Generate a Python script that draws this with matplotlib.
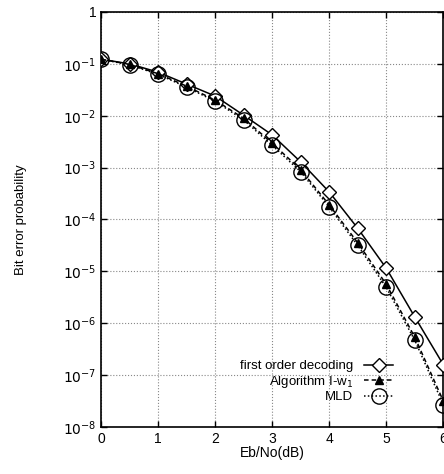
import numpy as np
import matplotlib
matplotlib.use("Agg")
import matplotlib.pyplot as plt
from matplotlib.ticker import FixedLocator, FuncFormatter

plt.rcParams['font.family'] = ['Liberation Sans', 'DejaVu Sans']

# Eb/No (dB)
snr = [0, 0.5, 1, 1.5, 2, 2.5, 3, 3.5, 4, 4.5, 5, 5.5, 6]

# log10 of bit error probability
first_order_log = [-0.91, -1.00, -1.16, -1.39, -1.62, -1.99, -2.37,
                   -2.89, -3.47, -4.17, -4.94, -5.88, -6.80]
algo_log = [-0.91, -1.01, -1.19, -1.43, -1.70, -2.05, -2.53,
            -3.04, -3.72, -4.45, -5.25, -6.27, -7.50]
mld_log = [-0.91, -1.02, -1.20, -1.45, -1.72, -2.08, -2.57,
           -3.08, -3.76, -4.50, -5.31, -6.33, -7.57]

labels = ["first order decoding", "Algorithm I-w$_1$", "MLD"]

first_order = 10.0 ** np.array(first_order_log)
algo = 10.0 ** np.array(algo_log)
mld = 10.0 ** np.array(mld_log)

fig = plt.figure(figsize=(4.44, 4.74), dpi=100)
ax = fig.add_axes([0.2275, 0.0992, 0.771, 0.8755])

ax.plot(snr, first_order, color='black', lw=1.1, ls='-', marker='D',
        ms=7.5, mfc='white', mec='black', mew=1.0, label=labels[0], zorder=3)
ax.plot(snr, algo, color='black', lw=1.1, ls=(0, (3, 2)), marker='^',
        ms=6, mfc='black', mec='black', label=labels[1], zorder=4)
ax.plot(snr, mld, color='black', lw=1.1, ls=(0, (1, 1.5)), marker='o',
        ms=11, mfc='none', mec='black', mew=1.0, label=labels[2], zorder=5)

ax.set_yscale('log')
ax.set_xlim(0, 6)
ax.set_ylim(1e-8, 1)
ax.xaxis.set_major_locator(FixedLocator([0, 1, 2, 3, 4, 5, 6]))
ax.yaxis.set_major_locator(FixedLocator([10.0 ** -k for k in range(0, 9)]))
ax.yaxis.set_minor_locator(FixedLocator([]))


def fmt(v, pos):
    e = int(round(np.log10(v)))
    if e == 0:
        return "1"
    return r"$10^{%d}$" % e


ax.yaxis.set_major_formatter(FuncFormatter(fmt))
ax.tick_params(direction='in', top=True, right=True, length=4,
               labelsize=10, width=1.0)
for s in ax.spines.values():
    s.set_linewidth(1.2)

ax.grid(True, which='major', ls=':', color='#888888', lw=0.8)

ax.set_xlabel("Eb/No(dB)", fontsize=10, labelpad=0)
ax.set_ylabel("Bit error probability", fontsize=9.5, labelpad=26)

leg = ax.legend(loc='lower right', markerfirst=False, frameon=False,
                fontsize=9.5, handlelength=2.2, labelspacing=0.1,
                borderaxespad=0.3, bbox_to_anchor=(0.88, 0.035))

fig.savefig("out.png", dpi=100)
